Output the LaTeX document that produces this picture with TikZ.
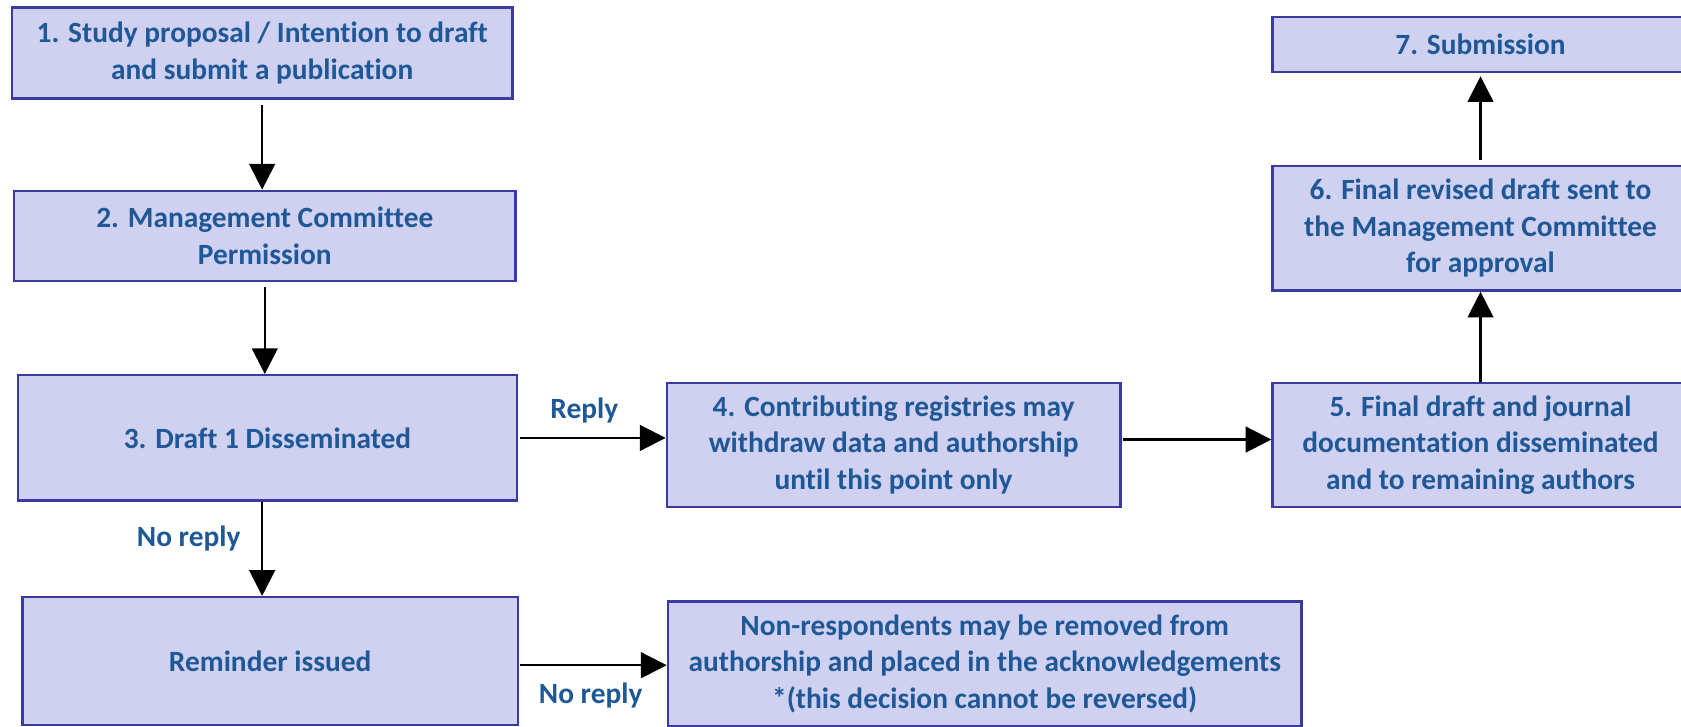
\documentclass[tikz,border=0pt]{standalone}
\usepackage{fontspec}
\setmainfont{Carlito}[Ligatures={NoCommon,NoContextual}]
\usetikzlibrary{arrows.meta}
\definecolor{boxfill}{RGB}{208,208,240}
\definecolor{boxdraw}{RGB}{58,58,160}
\definecolor{txt}{RGB}{31,88,150}
\begin{document}
\begin{tikzpicture}[x=0.5pt,y=-0.5pt,
  box/.style={rectangle, draw=boxdraw, fill=boxfill, line width=1.1pt, inner sep=0pt,
    align=center, text=txt, font=\bfseries\fontsize{13.7}{17}\selectfont},
  arr/.style={line width=1pt, -{Triangle[length=12pt,width=12pt]}},
  lbl/.style={text=txt, inner sep=0pt, font=\bfseries\fontsize{13.7}{17}\selectfont}]
\useasboundingbox (0,0) rectangle (1568,678);
\node[box, minimum width=233.5pt, minimum height=42.5pt] (b1) at (244.5,49.5)
  {1. Study proposal / Intention to draft\\and submit a publication};
\node[box, minimum width=234pt, minimum height=42pt] (b2) at (247,220)
  {2. Management Committee\\Permission};
\node[box, minimum width=232.5pt, minimum height=58.5pt] (b3) at (249.5,408.5)
  {3. Draft 1 Disseminated};
\node[box, minimum width=231pt, minimum height=59.5pt] (bR) at (252,616.5)
  {Reminder issued};
\node[box, minimum width=211.5pt, minimum height=58pt] (b4) at (833.5,415)
  {4. Contributing registries may\\withdraw data and authorship\\until this point only};
\node[box, minimum width=295.5pt, minimum height=58pt] (bN) at (918.5,619)
  {Non-respondents may be removed from\\authorship and placed in the acknowledgements\\*(this decision cannot be reversed)};
\node[box, minimum width=194pt, minimum height=58pt] (b5) at (1381,415)
  {5. Final draft and journal\\documentation disseminated\\and to remaining authors};
\node[box, minimum width=194pt, minimum height=58pt] (b6) at (1381,213)
  {6. Final revised draft sent to\\the Management Committee\\for approval};
\node[box, minimum width=194pt, minimum height=25.5pt] (b7) at (1381,41.5)
  {7. Submission};

\draw[arr, shorten <=2.5pt] (b1.south) -- (b1.south |- b2.north);
\draw[arr, shorten <=2.5pt] (b2.south) -- (b2.south |- b3.north);
\draw[arr] ([xshift=-2.5pt]b3.south) -- ([xshift=-2.5pt]b3.south |- bR.north);
\draw[arr, shorten <=1pt] (b3.east) -- (b3.east -| b4.west);
\draw[arr, shorten <=0.5pt] ([yshift=2.5pt]b4.east) -- ([yshift=2.5pt]b4.east -| b5.west);
\draw[arr, shorten <=0.5pt] ([yshift=-2pt]bR.east) -- ([yshift=-2pt]bR.east -| bN.west);
\draw[arr] (b5.north) -- (b5.north |- b6.south);
\draw[arr, shorten <=2.5pt, shorten >=1.5pt] (b6.north) -- (b6.north |- b7.south);

\node[lbl] (l1) at (545,383) {Reply};
\node[lbl] (l2) at (176,502) {No reply};
\node[lbl] (l3) at (551,649) {No reply};
\end{tikzpicture}
\end{document}
